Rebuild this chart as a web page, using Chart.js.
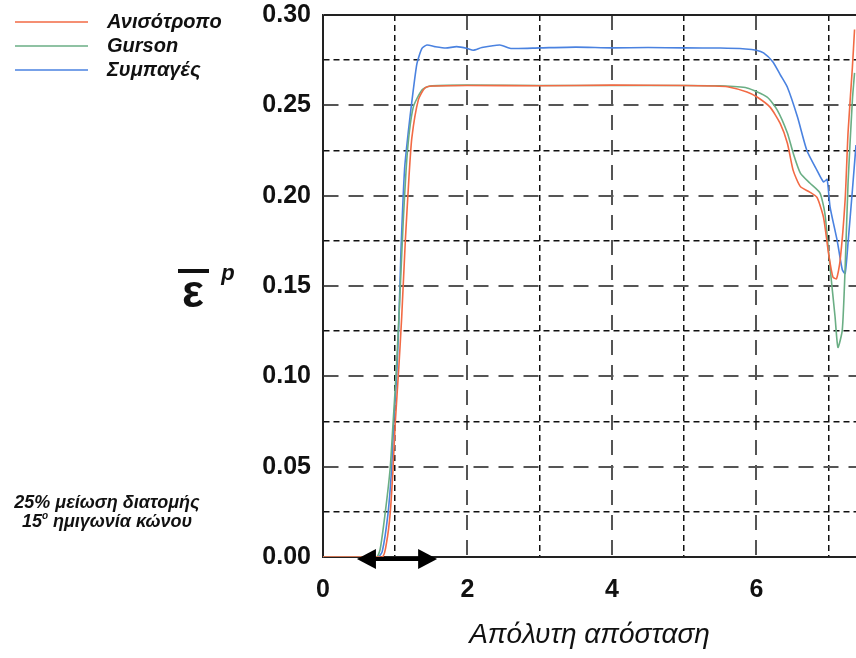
<!DOCTYPE html>
<html>
<head>
<meta charset="utf-8">
<script src="https://cdn.jsdelivr.net/npm/chart.js@4"></script>
<style>
  html, body { margin: 0; padding: 0; background: #fff; }
  #wrap { width: 856px; height: 658px; position: relative; }
</style>
</head>
<body>
<div id="wrap"><canvas id="chart"></canvas></div>
<script>
// equivalent plastic strain along the absolute distance, three material models
const anisoX = [0, 0.82, 0.88, 0.93, 0.97, 1.0, 1.05, 1.09, 1.14, 1.19, 1.23, 1.32, 1.41, 1.52, 2.0, 3.0, 4.0, 5.0, 5.4, 5.6, 5.87, 6.01, 6.19, 6.33, 6.43, 6.51, 6.61, 6.74, 6.84, 6.93, 7.0, 7.06, 7.11, 7.16, 7.23, 7.27, 7.33, 7.36];
const anisoY = [0, 0, 0.008, 0.024, 0.049, 0.074, 0.105, 0.133, 0.175, 0.21, 0.232, 0.253, 0.2596, 0.2607, 0.261, 0.2608, 0.2612, 0.261, 0.2607, 0.2603, 0.2574, 0.2546, 0.249, 0.24, 0.229, 0.214, 0.205, 0.202, 0.199, 0.188, 0.168, 0.155, 0.154, 0.164, 0.198, 0.235, 0.271, 0.292];

const gursonX = [0, 0.74, 0.79, 0.86, 0.93, 0.97, 1.01, 1.06, 1.11, 1.17, 1.25, 1.37, 1.48, 2.0, 3.0, 4.0, 5.0, 5.5, 5.87, 6.15, 6.29, 6.43, 6.51, 6.61, 6.74, 6.88, 6.95, 7.02, 7.09, 7.13, 7.19, 7.23, 7.27, 7.33, 7.36];
const gursonY = [0, 0, 0.004, 0.024, 0.049, 0.074, 0.1, 0.14, 0.185, 0.225, 0.249, 0.2585, 0.2607, 0.2612, 0.261, 0.261, 0.261, 0.2608, 0.2596, 0.2546, 0.2474, 0.2347, 0.2236, 0.2125, 0.207, 0.2015, 0.19, 0.1605, 0.133, 0.116, 0.1256, 0.1605, 0.207, 0.253, 0.268];

const solidX = [0, 0.76, 0.82, 0.9, 0.95, 0.98, 1.02, 1.05, 1.08, 1.13, 1.18, 1.23, 1.3, 1.37, 1.44, 1.55, 1.7, 1.85, 2.0, 2.08, 2.2, 2.45, 2.6, 3.0, 3.5, 4.0, 4.5, 5.0, 5.5, 5.85, 6.0, 6.1, 6.23, 6.33, 6.43, 6.57, 6.7, 6.84, 6.93, 6.98, 7.02, 7.12, 7.19, 7.23, 7.27, 7.33, 7.38];
const solidY = [0, 0, 0.003, 0.024, 0.049, 0.074, 0.1, 0.13, 0.17, 0.215, 0.235, 0.252, 0.273, 0.2815, 0.2834, 0.2825, 0.2817, 0.2825, 0.2815, 0.2805, 0.282, 0.2834, 0.2815, 0.2818, 0.2822, 0.2818, 0.282, 0.2818, 0.2817, 0.2812, 0.2805, 0.279, 0.274, 0.267, 0.26, 0.2435, 0.225, 0.214, 0.2076, 0.209, 0.194, 0.175, 0.159, 0.157, 0.174, 0.203, 0.228];

const seriesNames = ['Ανισότροπο', 'Gurson', 'Συμπαγές'];
const seriesColors = ['#f26a44', '#6aae84', '#4a82e0'];

// axis ticks
const xTickLabels = [0, 2, 4, 6];
const yTickLabels = [0, 0.05, 0.10, 0.15, 0.20, 0.25, 0.30];

// double arrow marking the die entry zone
const arrowFrom = 0.47;
const arrowTo = 1.58;

const noteLines = ['25% μείωση διατομής', '15', ' ημιγωνία κώνου'];

const pts = (xs, ys) => xs.map((x, i) => ({ x, y: ys[i] }));

const isMajorY = (v) => Math.round(v * 1000) % 50 === 0;
const isEdgeY = (v) => Math.round(v * 1000) === 0 || Math.round(v * 1000) === 300;

const extras = {
  id: 'extras',
  afterDatasetsDraw(chart) {
    const { ctx, scales: { x, y } } = chart;
    ctx.save();
    // arrow on the baseline
    const ay = y.getPixelForValue(0) + 2;
    const x1 = x.getPixelForValue(arrowFrom);
    const x2 = x.getPixelForValue(arrowTo);
    ctx.strokeStyle = '#000';
    ctx.fillStyle = '#000';
    ctx.lineWidth = 4;
    ctx.beginPath();
    ctx.moveTo(x1 + 10, ay);
    ctx.lineTo(x2 - 10, ay);
    ctx.stroke();
    ctx.beginPath();
    ctx.moveTo(x1, ay);
    ctx.lineTo(x1 + 19, ay - 10);
    ctx.lineTo(x1 + 19, ay + 10);
    ctx.closePath();
    ctx.fill();
    ctx.beginPath();
    ctx.moveTo(x2, ay);
    ctx.lineTo(x2 - 19, ay - 10);
    ctx.lineTo(x2 - 19, ay + 10);
    ctx.closePath();
    ctx.fill();
    ctx.restore();
  },
  afterDraw(chart) {
    const { ctx } = chart;
    ctx.save();
    // legend, top left
    ctx.textBaseline = 'middle';
    ctx.textAlign = 'left';
    ctx.font = 'italic bold 20px "Liberation Sans", Arial, sans-serif';
    chart.data.datasets.forEach((ds, i) => {
      const ly = 22 + i * 24;
      ctx.strokeStyle = ds.borderColor;
      ctx.lineWidth = 1.5;
      ctx.beginPath();
      ctx.moveTo(15, ly);
      ctx.lineTo(88, ly);
      ctx.stroke();
      ctx.fillStyle = '#111';
      ctx.fillText(ds.label, 107, ly);
    });

    // y axis symbol: plastic strain with overbar
    const yc = chart.scales.y.getPixelForValue(0.15);
    ctx.fillStyle = '#111';
    ctx.font = 'bold 46px "Liberation Sans", Arial, sans-serif';
    ctx.textAlign = 'center';
    ctx.textBaseline = 'alphabetic';
    ctx.fillText('ε', 193, yc + 21);
    ctx.fillRect(178, yc - 17, 31, 4);
    ctx.font = 'italic bold 22px "Liberation Sans", Arial, sans-serif';
    ctx.fillText('p', 228, yc - 6);

    // process note
    ctx.font = 'italic bold 18px "Liberation Sans", Arial, sans-serif';
    ctx.textAlign = 'center';
    ctx.fillText(noteLines[0], 107, 508);
    const w15 = ctx.measureText(noteLines[1]).width;
    const wRest = ctx.measureText(noteLines[2]).width;
    const start = 107 - (w15 + 6 + wRest) / 2;
    ctx.textAlign = 'left';
    ctx.fillText(noteLines[1], start, 527);
    ctx.font = 'italic bold 10px "Liberation Sans", Arial, sans-serif';
    ctx.fillText('o', start + w15, 519);
    ctx.font = 'italic bold 18px "Liberation Sans", Arial, sans-serif';
    ctx.fillText(noteLines[2], start + w15 + 6, 527);
    ctx.restore();
  }
};

new Chart(document.getElementById('chart'), {
  type: 'scatter',
  data: {
    datasets: [
      { label: seriesNames[0], data: pts(anisoX, anisoY), borderColor: seriesColors[0] },
      { label: seriesNames[1], data: pts(gursonX, gursonY), borderColor: seriesColors[1] },
      { label: seriesNames[2], data: pts(solidX, solidY), borderColor: seriesColors[2] },
    ].map((d) => ({ ...d, showLine: true, pointRadius: 0, borderWidth: 1.6, tension: 0.2, fill: false })),
  },
  options: {
    animation: false,
    responsive: true,
    maintainAspectRatio: false,
    layout: { padding: { top: 15, right: 0, left: 0, bottom: 0 } },
    plugins: { legend: { display: false }, tooltip: { enabled: false } },
    scales: {
      x: {
        type: 'linear',
        min: 0,
        max: 7.38,
        afterFit: (s) => { s.height = 101; s.paddingLeft = 0; s.paddingRight = 0; },
        ticks: {
          stepSize: 1,
          includeBounds: false,
          autoSkip: false,
          maxRotation: 0,
          padding: 18,
          color: '#111',
          font: { family: '"Liberation Sans", Arial, sans-serif', size: 25, weight: 'bold' },
          callback: (v) => (xTickLabels.includes(v) ? String(v) : ''),
        },
        grid: {
          drawTicks: false,
          color: (c) => (c.tick && c.tick.value === 0 ? '#222' : (c.tick && c.tick.value % 2 === 0 ? '#555' : '#111')),
          lineWidth: (c) => (c.tick && c.tick.value % 2 === 0 ? 2 : 1.5),
        },
        border: {
          display: true,
          color: '#222',
          width: 1.5,
          dash: (c) => {
            if (!c.tick || c.tick.value === 0) return [];
            return c.tick.value % 2 === 0 ? [15, 10] : [6, 4];
          },
        },
        title: {
          display: true,
          text: 'Απόλυτη απόσταση',
          color: '#111',
          font: { family: '"Liberation Sans", Arial, sans-serif', size: 28, style: 'italic' },
          padding: { top: 0, bottom: 6 },
        },
      },
      y: {
        min: 0,
        max: 0.3,
        afterFit: (s) => { s.width = 323; s.paddingTop = 0; s.paddingBottom = 0; },
        ticks: {
          stepSize: 0.025,
          autoSkip: false,
          padding: 12,
          color: '#111',
          font: { family: '"Liberation Sans", Arial, sans-serif', size: 25, weight: 'bold' },
          callback: (v) => {
            const hit = yTickLabels.find((t) => Math.abs(t - v) < 1e-6);
            return hit === undefined ? '' : hit.toFixed(2);
          },
        },
        grid: {
          drawTicks: false,
          color: (c) => {
            if (!c.tick) return '#222';
            if (isEdgeY(c.tick.value)) return '#222';
            return isMajorY(c.tick.value) ? '#555' : '#111';
          },
          lineWidth: (c) => (c.tick && isMajorY(c.tick.value) ? 2 : 1.5),
        },
        border: {
          display: true,
          color: '#222',
          width: 1.5,
          dash: (c) => {
            if (!c.tick || isEdgeY(c.tick.value)) return [];
            return isMajorY(c.tick.value) ? [15, 10] : [6, 4];
          },
        },
      },
    },
  },
  plugins: [extras],
});
</script>
</body>
</html>
